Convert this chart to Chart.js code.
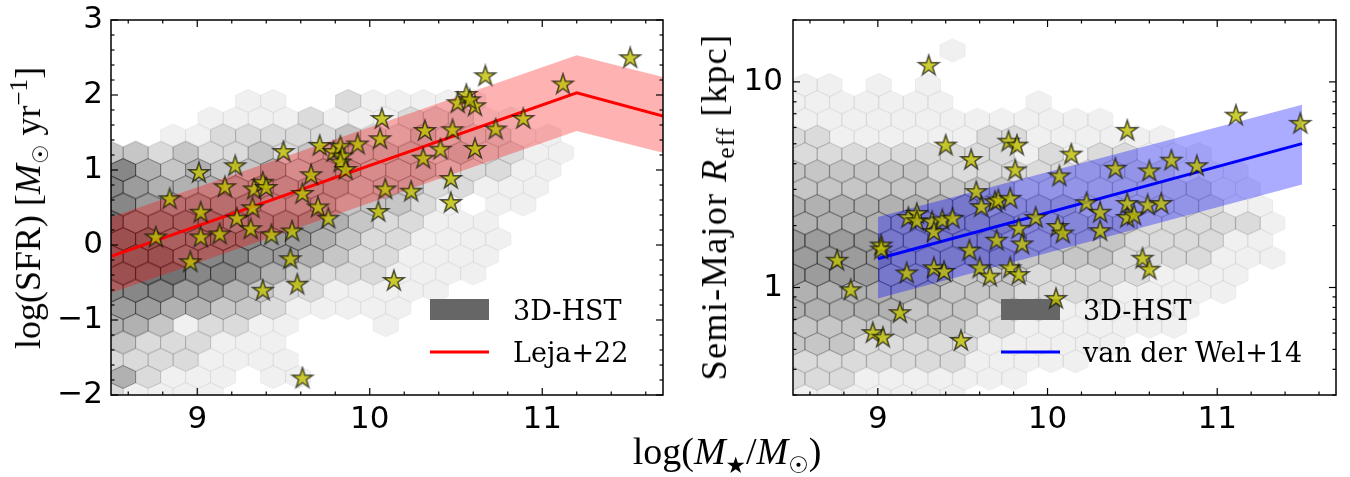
<!DOCTYPE html>
<html>
<head>
<meta charset="utf-8">
<script src="https://cdn.jsdelivr.net/npm/chart.js@4"></script>
<style>
  body { margin: 0; background: #fff; }
  #wrap { position: relative; width: 1350px; height: 477px; overflow: hidden; font-family: "Liberation Serif", serif; }
  canvas { position: absolute; top: 0; }
  .lab { position: absolute; white-space: nowrap; font-size: 36px; line-height: 1; color: #000; transform: translate(-50%, -50%); }
  .rot { transform: translate(-50%, -50%) rotate(-90deg); }
  sub, sup { font-size: 70%; line-height: 0; }
  .sym { font-family: "DejaVu Sans", sans-serif; font-size: 60%; }
</style>
</head>
<body>
<div id="wrap">
  <canvas id="sfr" width="680" height="477" style="left:0"></canvas>
  <canvas id="reff" width="670" height="477" style="left:680px"></canvas>
  <div class="lab rot" style="left:28px; top:208px">log(SFR) [<i>M</i><sub class="sym">☉</sub> yr<sup>−1</sup>]</div>
  <div class="lab rot" style="left:714px; top:207px; letter-spacing:1.4px">Semi-Major <i>R</i><sub>eff</sub> [kpc]</div>
  <div class="lab" style="left:727px; top:451px; font-size:38px">log(<i>M</i><sub class="sym">★</sub>/<i>M</i><sub class="sym">☉</sub>)</div>
</div>
<script>
/* AXES */
const xTicks = [9, 10, 11];
const xMinor = [8.6, 8.8, 9.2, 9.4, 9.6, 9.8, 10.2, 10.4, 10.6, 10.8, 11.2, 11.4, 11.6];
const sfrTicks = [-2, -1, 0, 1, 2, 3];
const sfrMinor = [-1.8, -1.6, -1.4, -1.2, -0.8, -0.6, -0.4, -0.2, 0.2, 0.4, 0.6, 0.8, 1.2, 1.4, 1.6, 1.8, 2.2, 2.4, 2.6, 2.8];
const reffTicks = [1, 10];
const reffMinor = [0.3, 0.4, 0.5, 0.6, 0.7, 0.8, 0.9, 2, 3, 4, 5, 6, 7, 8, 9, 20];

/* OUR GALAXIES (stars) */
const sfrStarMass = [8.76, 8.84, 8.96, 9.01, 9.02, 9.02, 9.13, 9.16, 9.22, 9.23, 9.31, 9.32, 9.33, 9.38, 9.40, 9.38, 9.43, 9.50, 9.54, 9.55, 9.58, 9.61, 9.66, 9.70, 9.71, 9.76, 9.79, 9.83, 9.84, 9.83, 9.86, 9.93, 9.61, 10.05, 10.06, 10.07, 10.09, 10.14, 10.24, 10.31, 10.32, 10.41, 10.47, 10.47, 10.48, 10.51, 10.56, 10.61, 10.61, 10.67, 10.73, 10.89, 11.12, 11.51, 10.58];
const sfrStarVal = [0.10, 0.61, -0.23, 0.96, 0.43, 0.10, 0.14, 0.77, 1.05, 0.35, 0.21, 0.49, 0.74, 0.83, 0.76, -0.61, 0.13, 1.24, -0.19, 0.18, -0.53, 0.68, 0.93, 0.50, 1.32, 0.35, 1.24, 1.31, 1.18, 1.10, 1.00, 1.34, -1.78, 0.44, 1.41, 1.68, 0.74, -0.48, 0.71, 1.15, 1.52, 1.27, 0.88, 0.56, 1.53, 1.89, 2.00, 1.85, 1.28, 2.25, 1.54, 1.68, 2.14, 2.49, 1.93];

const reffStarMass = [8.76, 8.84, 9.02, 9.02, 9.13, 8.97, 9.03, 9.17, 9.18, 9.23, 9.23, 9.30, 9.32, 9.33, 9.33, 9.39, 9.38, 9.44, 9.40, 9.49, 9.54, 9.55, 9.58, 9.61, 9.60, 9.66, 9.69, 9.70, 9.71, 9.77, 9.78, 9.78, 9.82, 9.81, 9.83, 9.83, 9.85, 9.93, 10.05, 10.06, 10.09, 10.07, 10.14, 10.23, 10.31, 10.31, 10.40, 10.47, 10.47, 10.47, 10.51, 10.56, 10.60, 10.60, 10.59, 10.67, 10.73, 10.88, 11.11, 11.49];
const reffStarVal = [1.35, 0.97, 1.60, 1.53, 0.75, 0.60, 0.57, 1.17, 2.18, 2.28, 2.10, 11.97, 2.08, 1.86, 1.24, 1.19, 2.12, 2.16, 4.90, 0.55, 1.51, 4.17, 2.91, 2.46, 1.24, 1.13, 2.60, 1.69, 2.65, 5.12, 2.70, 1.24, 4.90, 3.71, 1.93, 1.15, 1.62, 2.18, 0.88, 1.97, 1.83, 3.47, 4.43, 2.57, 2.31, 1.88, 3.78, 2.55, 5.78, 2.18, 2.24, 1.38, 1.22, 3.67, 2.51, 2.55, 4.14, 3.89, 6.85, 6.25];

/* REFERENCE RELATIONS */
const lejaMass = [8.5, 11.2, 11.7];
const lejaSfr = [-0.15, 2.03, 1.72];
const lejaHi = [0.37, 2.53, 2.24];
const lejaLo = [-0.64, 1.52, 1.23];

const vdwMass = [9.0, 11.5];
const vdwReff = [1.38, 5.01];
const vdwHi = [2.20, 7.74];
const vdwLo = [0.885, 3.17];

/* 3D-HST HEXBIN: grey level per cell (0 = empty), rows from top */
const hexX0 = 8.57;
const hexDx = 0.145;
const hexSfrTop = 1.92, hexSfrStep = -0.23;
const hexSfrRows = [
  "0000011002111110000000",
  "0000111121112221100000",
  "0011222223223222110000",
  "3323223233333232211000",
  "6434334344333222110000",
  "6544444444333221110000",
  "6555554443332101100000",
  "7666655554322111000000",
  "7766665543221111000000",
  "7776665543221111000000",
  "7776654322211110000000",
  "6665543221111100000000",
  "5544332111110000000000",
  "4431221100010000000000",
  "3222111000000000000000",
  "2222111100000000000000",
  "4211101100000000000000",
  "2111100000000000000000"
];
const hexReffTop = 1.153, hexReffStep = -0.084; // log10 kpc
const hexReffRows = [
  "0000001000000000000000",
  "0000000000000000000000",
  "1101010000000000000000",
  "1111111000100000000000",
  "1111111111111000000000",
  "2211111122111111000000",
  "2222222221212211100000",
  "3333332222222222111000",
  "3333333332222222211000",
  "4444444433332222221100",
  "4444444443333322222100",
  "5555444443333322221100",
  "5555444443333222211100",
  "5555444333222221111000",
  "4444443332222111110000",
  "4444433322211111100000",
  "3333333221111111000000",
  "3332222211111100000000",
  "2222222111110000000000",
  "2221111111000000000000",
  "1111111000000000000000"
];

/* MARKER IMAGES */
function hexImage(level) {
  let c = document.createElement("canvas");
  c.width = 28; c.height = 26;
  let g = c.getContext("2d");
  let col = "rgba(0,0,0," + (0.06 + (level - 1) * 0.082).toFixed(3) + ")";
  g.beginPath();
  g.moveTo(14, 13 - 11.5);
  g.lineTo(14 + 12.5, 13 - 5.75);
  g.lineTo(14 + 12.5, 13 + 5.75);
  g.lineTo(14, 13 + 11.5);
  g.lineTo(14 - 12.5, 13 + 5.75);
  g.lineTo(14 - 12.5, 13 - 5.75);
  g.closePath();
  g.fillStyle = col;
  g.fill();
  g.strokeStyle = col;
  g.lineWidth = 1;
  g.stroke();
  return c;
}

function starImage() {
  let c = document.createElement("canvas");
  c.width = 26; c.height = 26;
  let g = c.getContext("2d");
  g.beginPath();
  for (let i = 0; i < 10; i++) {
    let r = i % 2 ? 4.1 : 10.8;
    let a = -Math.PI / 2 + i * Math.PI / 5;
    g.lineTo(13 + r * Math.cos(a), 13 + r * Math.sin(a));
  }
  g.closePath();
  g.fillStyle = "rgba(191,191,0,0.8)";
  g.fill();
  g.lineWidth = 1.5;
  g.lineJoin = "miter";
  g.strokeStyle = "rgba(0,0,0,0.65)";
  g.stroke();
  return c;
}

const starImg = starImage();
const hexImgs = {};
for (let l = 1; l <= 9; l++) hexImgs[l] = hexImage(l);

/* DATASET BUILDERS */
function pts(xs, ys) {
  return xs.map((x, i) => ({ x: x, y: ys[i] }));
}

function hexDatasets(rows, top, step, isLog) {
  let byLevel = {};
  rows.forEach((row, j) => {
    let x0 = j % 2 === 0 ? hexX0 : hexX0 - hexDx / 2;
    let yv = top + step * j;
    if (isLog) yv = Math.pow(10, yv);
    row.split("").forEach((ch, k) => {
      let l = parseInt(ch, 10);
      if (!l) return;
      if (!byLevel[l]) byLevel[l] = [];
      byLevel[l].push({ x: x0 + hexDx * k, y: yv });
    });
  });
  return Object.keys(byLevel).map(l => ({
    data: byLevel[l],
    pointStyle: hexImgs[l],
    pointRadius: 13,
    order: 3,
    clip: 0
  }));
}

function relation(xs, mid, hi, lo, color, band) {
  return [
    { type: "line", data: pts(xs, mid), borderColor: color, borderWidth: 3, pointRadius: 0, fill: false, tension: 0, order: 1, clip: 0 },
    { type: "line", data: pts(xs, hi), borderColor: "rgba(0,0,0,0)", borderWidth: 0, pointRadius: 0, fill: "+1", backgroundColor: band, tension: 0, order: 2, clip: 0 },
    { type: "line", data: pts(xs, lo), borderColor: "rgba(0,0,0,0)", borderWidth: 0, pointRadius: 0, fill: false, tension: 0, order: 2, clip: 0 }
  ];
}

/* PLUGINS: inward ticks on all sides + frame, and legend */
const frameTicks = {
  id: "frameTicks",
  afterDatasetsDraw(chart, args, o) {
    let ctx = chart.ctx, a = chart.chartArea, sx = chart.scales.x, sy = chart.scales.y;
    ctx.save();
    ctx.strokeStyle = "#000";
    ctx.lineWidth = 1.2;
    function seg(x1, y1, x2, y2) {
      ctx.beginPath(); ctx.moveTo(x1, y1); ctx.lineTo(x2, y2); ctx.stroke();
    }
    function xt(vals, len) {
      vals.forEach(v => {
        let p = sx.getPixelForValue(v);
        seg(p, a.bottom, p, a.bottom - len);
        seg(p, a.top, p, a.top + len);
      });
    }
    function yt(vals, len) {
      vals.forEach(v => {
        let p = sy.getPixelForValue(v);
        seg(a.left, p, a.left + len, p);
        seg(a.right, p, a.right - len, p);
      });
    }
    xt(o.xMajor, 7); xt(o.xMinor, 3.5);
    yt(o.yMajor, 7); yt(o.yMinor, 3.5);
    ctx.lineWidth = 1.5;
    ctx.strokeRect(a.left, a.top, a.right - a.left, a.bottom - a.top);
    ctx.restore();
  }
};

const legendBox = {
  id: "legendBox",
  afterDatasetDraw(chart, args, o) {
    if (args.index !== 1) return;
    let ctx = chart.ctx;
    ctx.save();
    ctx.fillStyle = "#666";
    ctx.fillRect(o.x, o.y, 59, 21);
    ctx.strokeStyle = o.color;
    ctx.lineWidth = 3;
    ctx.beginPath(); ctx.moveTo(o.x, o.y + 53); ctx.lineTo(o.x + 59, o.y + 53); ctx.stroke();
    ctx.fillStyle = "#000";
    ctx.font = "27px 'DejaVu Serif'";
    ctx.textBaseline = "alphabetic";
    ctx.fillText("3D-HST", o.tx, o.y + 21);
    ctx.fillText(o.label, o.tx, o.y + 63);
    ctx.restore();
  }
};

function tickFont() {
  return { family: "'DejaVu Sans'", size: 31 };
}

function panel(id, cfg) {
  return new Chart(document.getElementById(id), {
    type: "scatter",
    data: { datasets: cfg.datasets },
    options: {
      responsive: false,
      animation: false,
      events: [],
      layout: { padding: { top: 20, right: cfg.padRight, left: 0, bottom: 0 } },
      plugins: {
        legend: { display: false },
        tooltip: { enabled: false },
        frameTicks: cfg.ticks,
        legendBox: cfg.legend
      },
      scales: {
        x: {
          type: "linear", min: 8.5, max: 11.7,
          afterBuildTicks: s => { s.ticks = xTicks.map(v => ({ value: v })); },
          afterFit: s => { s.height = 82; s.paddingLeft = 0; s.paddingRight = 0; },
          ticks: { font: tickFont(), color: "#000", padding: 6, maxRotation: 0, autoSkip: false },
          grid: { display: false, drawTicks: false },
          border: { display: false }
        },
        y: Object.assign({
          afterFit: s => { s.width = cfg.yWidth; s.paddingTop = 0; s.paddingBottom = 0; },
          ticks: { font: tickFont(), color: "#000", padding: cfg.yPad, autoSkip: false,
                   callback: v => v < 0 ? "−" + Math.abs(v) : String(v) },
          grid: { display: false, drawTicks: false },
          border: { display: false }
        }, cfg.y)
      }
    },
    plugins: [frameTicks, legendBox]
  });
}

/* LEFT: SFR vs mass */
panel("sfr", {
  padRight: 17,
  yWidth: 111,
  yPad: 8,
  y: { type: "linear", min: -2, max: 3,
       afterBuildTicks: s => { s.ticks = sfrTicks.map(v => ({ value: v })); } },
  ticks: { xMajor: xTicks, xMinor: xMinor, yMajor: sfrTicks, yMinor: sfrMinor },
  legend: { x: 430, y: 299, tx: 513, color: "#ff0000", label: "Leja+22" },
  datasets: [
    { data: pts(sfrStarMass, sfrStarVal), pointStyle: starImg, pointRadius: 11, order: 0, clip: 0 }
  ].concat(relation(lejaMass, lejaSfr, lejaHi, lejaLo, "#ff0000", "rgba(255,0,0,0.3)"))
   .concat(hexDatasets(hexSfrRows, hexSfrTop, hexSfrStep, false))
});

/* RIGHT: size vs mass */
panel("reff", {
  padRight: 4,
  yWidth: 113,
  yPad: 10,
  y: { type: "logarithmic", min: 0.3, max: 20,
       afterBuildTicks: s => { s.ticks = reffTicks.map(v => ({ value: v })); } },
  ticks: { xMajor: xTicks, xMinor: xMinor, yMajor: reffTicks, yMinor: reffMinor },
  legend: { x: 321, y: 299, tx: 403, color: "#0000ff", label: "van der Wel+14" },
  datasets: [
    { data: pts(reffStarMass, reffStarVal), pointStyle: starImg, pointRadius: 11, order: 0, clip: 0 }
  ].concat(relation(vdwMass, vdwReff, vdwHi, vdwLo, "#0000ff", "rgba(0,0,255,0.33)"))
   .concat(hexDatasets(hexReffRows, hexReffTop, hexReffStep, true))
});
</script>
</body>
</html>
